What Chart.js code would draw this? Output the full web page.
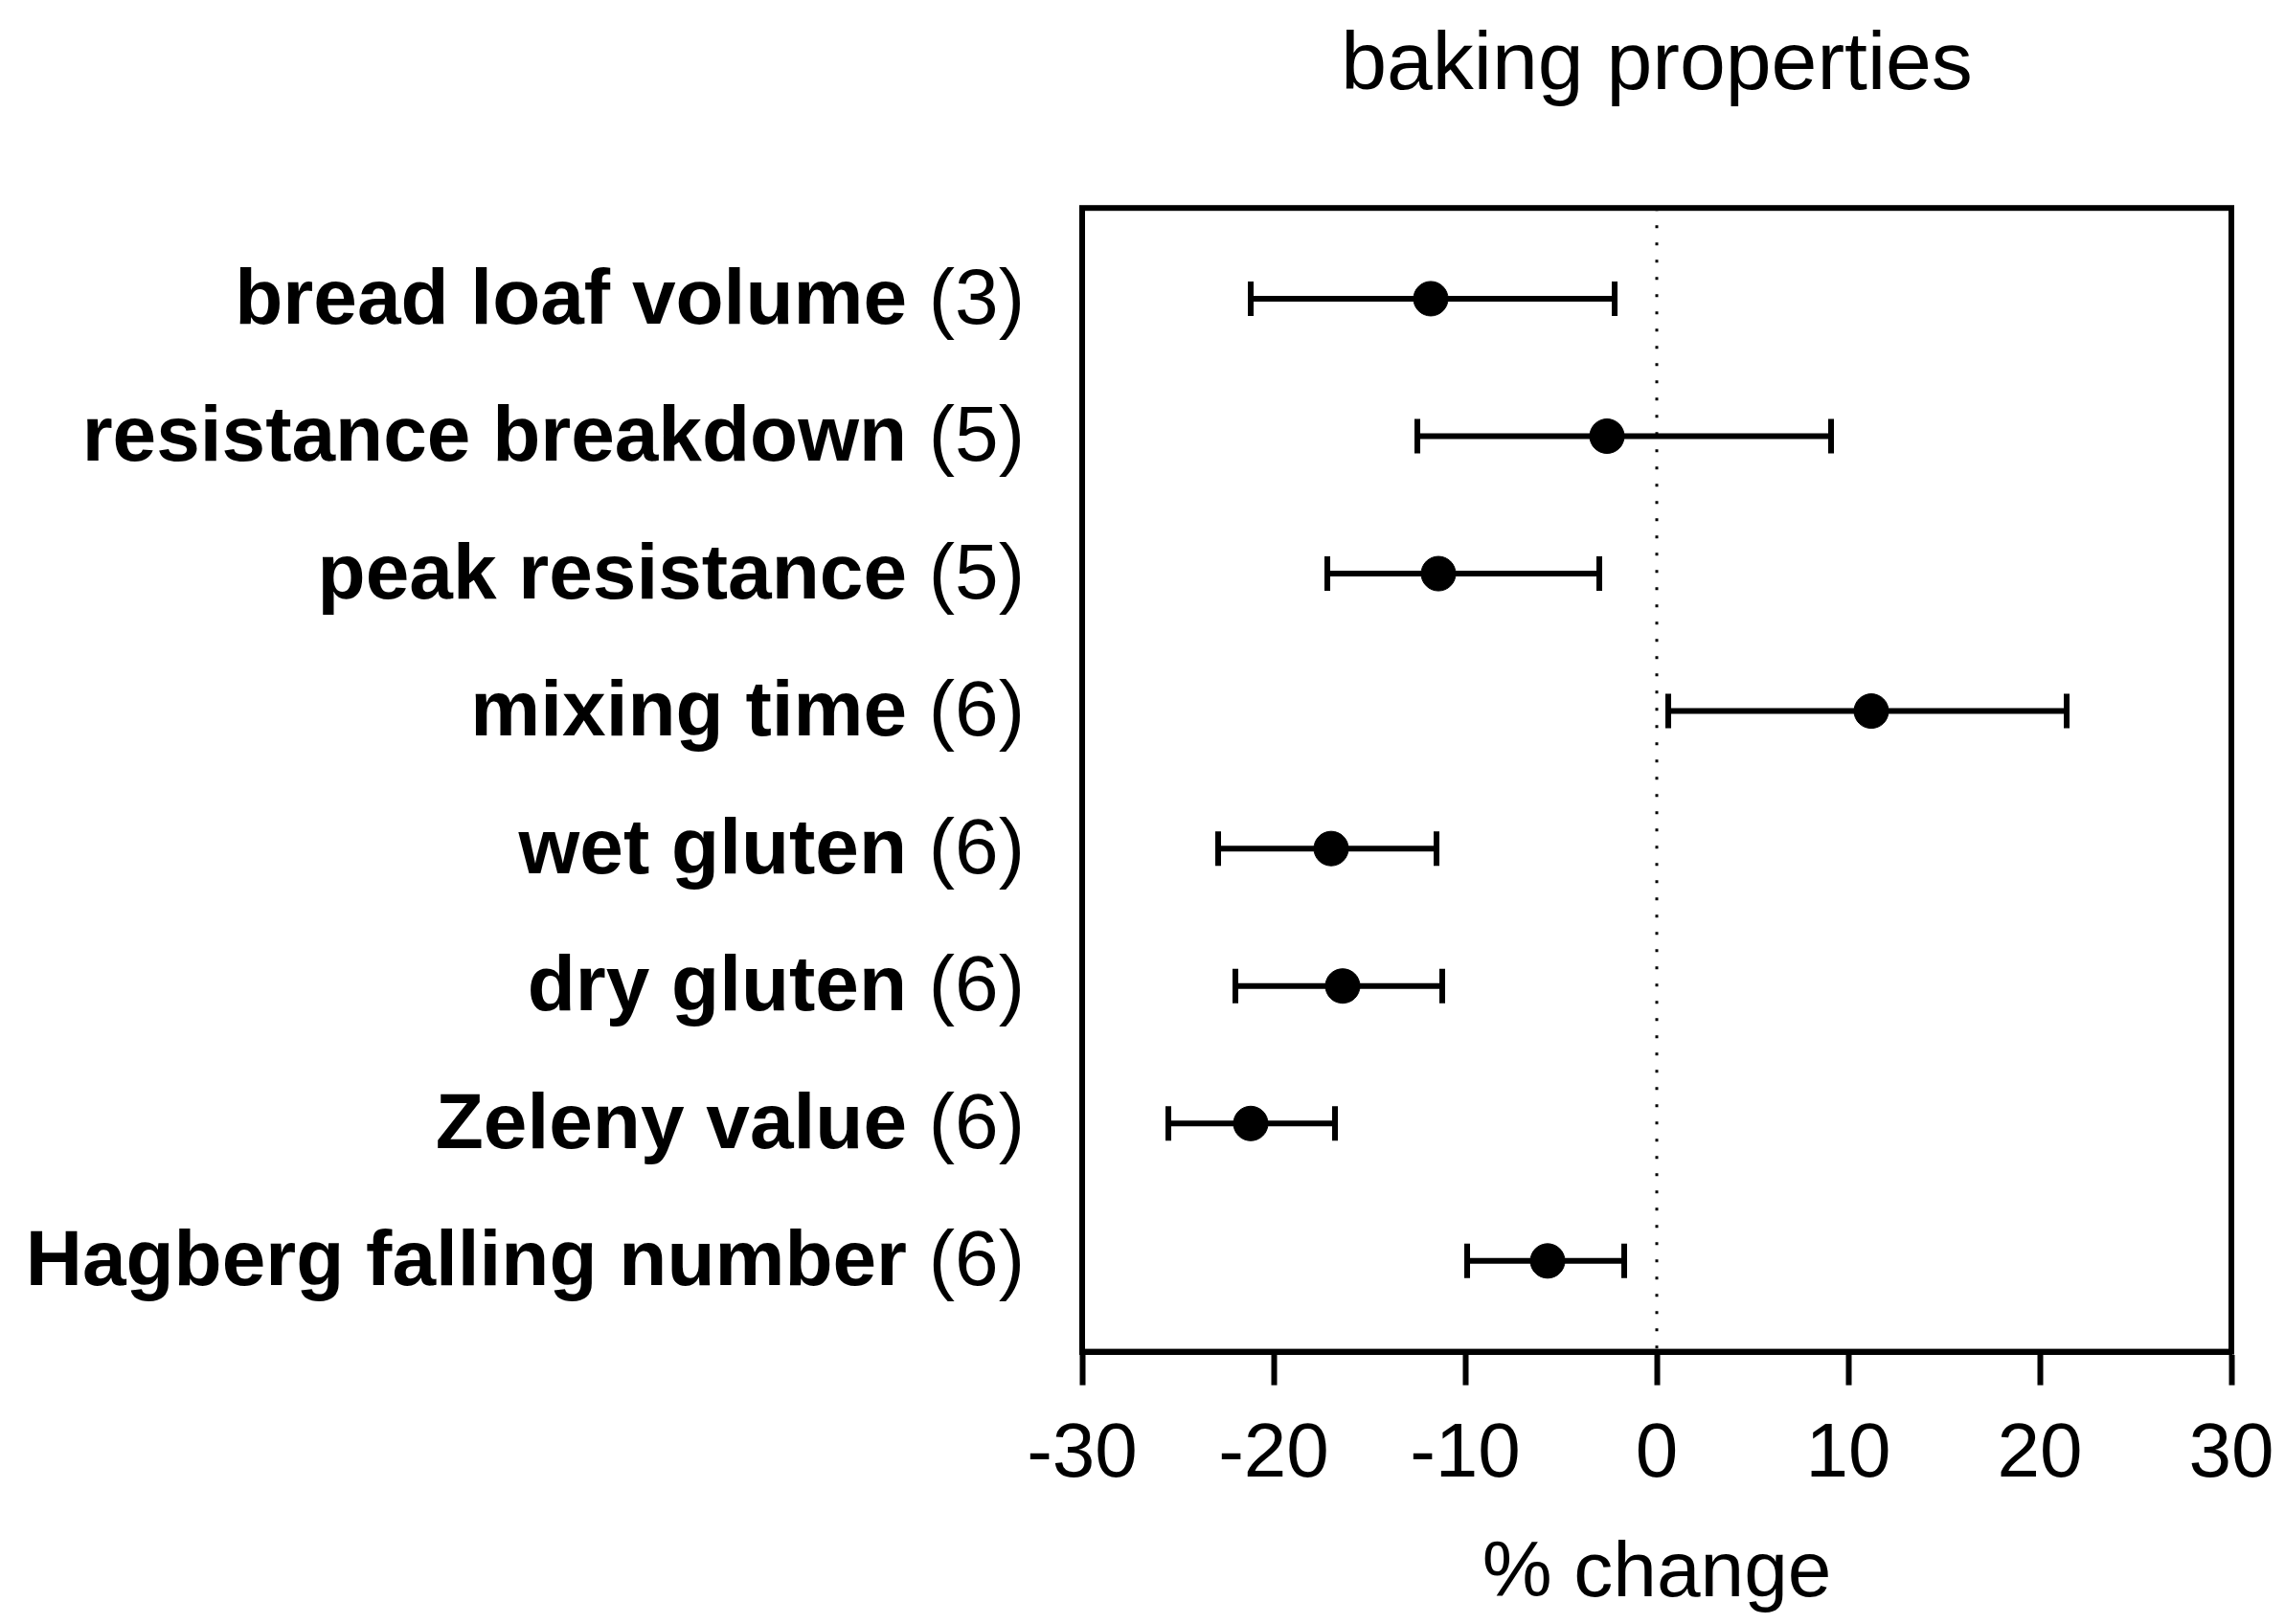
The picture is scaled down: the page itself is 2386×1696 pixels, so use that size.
<!DOCTYPE html>
<html>
<head>
<meta charset="utf-8">
<script src="https://cdn.jsdelivr.net/npm/chart.js@4.4.1/dist/chart.umd.min.js"></script>
<style>
  html, body { margin: 0; padding: 0; background: #fff; }
  #c { display: block; }
</style>
</head>
<body>
<canvas id="c" width="2386" height="1696"></canvas>
<script>
// ---- data ----
const categories = ['bread loaf volume', 'resistance breakdown', 'peak resistance', 'mixing time',
                    'wet gluten', 'dry gluten', 'Zeleny value', 'Hagberg falling number'];
const studyCounts = [3, 5, 5, 6, 6, 6, 6, 6];
const meanChange = [-11.8, -2.6, -11.4, 11.2, -17.0, -16.4, -21.2, -5.7];
const lowerCI    = [-21.2, -12.5, -17.2, 0.6, -22.9, -22.0, -25.5, -9.9];
const upperCI    = [-2.2, 9.1, -3.0, 21.4, -11.5, -11.2, -16.8, -1.7];
const xTicks = [-30, -20, -10, 0, 10, 20, 30];
const chartTitle = 'baking properties';
const xAxisTitle = '% change';

const FONT = '"Liberation Sans", Arial, Helvetica, sans-serif';
const Y_MIN = 0.34, Y_MAX = categories.length + 0.66;

const points = meanChange.map((v, i) => ({ x: v, y: i + 1 }));

// error bars, drawn through the scales
const errorBarPlugin = {
  id: 'errorBars',
  beforeDatasetsDraw(chart) {
    const ctx = chart.ctx, xs = chart.scales.x, ys = chart.scales.y;
    ctx.save();
    ctx.strokeStyle = '#000';
    ctx.lineCap = 'butt';
    for (let i = 0; i < categories.length; i++) {
      const y = ys.getPixelForValue(i + 1);
      const x1 = xs.getPixelForValue(lowerCI[i]);
      const x2 = xs.getPixelForValue(upperCI[i]);
      ctx.lineWidth = 6;
      ctx.beginPath(); ctx.moveTo(x1, y); ctx.lineTo(x2, y); ctx.stroke();
      ctx.beginPath();
      ctx.moveTo(x1, y - 18); ctx.lineTo(x1, y + 18);
      ctx.moveTo(x2, y - 18); ctx.lineTo(x2, y + 18);
      ctx.stroke();
    }
    ctx.restore();
  }
};

// frame + category labels (bold name, regular count)
const framePlugin = {
  id: 'frameLabels',
  afterDraw(chart) {
    const ctx = chart.ctx, a = chart.chartArea, ys = chart.scales.y;
    ctx.save();
    ctx.strokeStyle = '#000';
    ctx.lineWidth = 6;
    ctx.strokeRect(a.left, a.top, a.right - a.left, a.bottom - a.top);
    ctx.fillStyle = '#000';
    ctx.textBaseline = 'middle';
    ctx.textAlign = 'right';
    const xRight = a.left - 60;
    for (let i = 0; i < categories.length; i++) {
      const y = ys.getPixelForValue(i + 1) + 3;
      const countTxt = ' (' + studyCounts[i] + ')';
      ctx.font = '400 82px ' + FONT;
      ctx.fillText(countTxt, xRight, y);
      const w = ctx.measureText(countTxt).width;
      ctx.font = '700 82px ' + FONT;
      ctx.fillText(categories[i], xRight - w, y);
    }
    ctx.restore();
  }
};

new Chart(document.getElementById('c'), {
  type: 'scatter',
  data: {
    datasets: [
      {
        label: 'zero',
        type: 'line',
        data: [{ x: 0, y: Y_MIN }, { x: 0, y: Y_MAX }],
        borderColor: '#000',
        borderWidth: 3,
        borderDash: [3, 15],
        pointRadius: 0,
        fill: false,
        order: 2
      },
      {
        label: 'mean',
        data: points,
        backgroundColor: '#000',
        borderColor: '#000',
        pointRadius: 18,
        pointHoverRadius: 18,
        order: 1
      }
    ]
  },
  options: {
    responsive: false,
    devicePixelRatio: 1,
    animation: false,
    events: [],
    layout: { padding: { left: 1130, right: 56, top: 0, bottom: 0 } },
    plugins: {
      legend: { display: false },
      tooltip: { enabled: false },
      title: {
        display: true,
        text: chartTitle,
        fullSize: false,
        color: '#000',
        font: { family: FONT, size: 86, weight: '400' },
        padding: { top: 18, bottom: 96 }
      }
    },
    scales: {
      x: {
        type: 'linear',
        min: -30, max: 30,
        afterBuildTicks: (s) => { s.ticks = xTicks.map(v => ({ value: v })); },
        afterFit: (s) => { s.paddingLeft = 0; s.paddingRight = 0; },
        ticks: {
          color: '#000',
          font: { family: FONT, size: 80 },
          padding: 25,
          maxRotation: 0
        },
        grid: {
          drawOnChartArea: false,
          drawTicks: true,
          tickLength: 35,
          tickWidth: 6,
          tickColor: '#000'
        },
        border: { display: true, color: '#000', width: 6 },
        title: {
          display: true,
          text: xAxisTitle,
          color: '#000',
          font: { family: FONT, size: 82 },
          padding: { top: 3, bottom: 2 }
        }
      },
      y: {
        type: 'linear',
        display: false,
        reverse: true,
        min: Y_MIN, max: Y_MAX
      }
    }
  },
  plugins: [errorBarPlugin, framePlugin]
});
</script>
</body>
</html>
